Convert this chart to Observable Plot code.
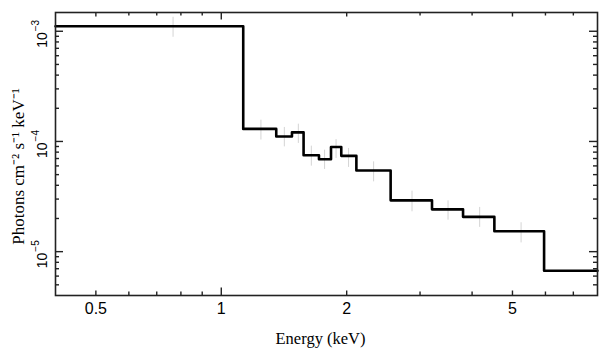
<!DOCTYPE html>
<html><head><meta charset="utf-8">
<script src="https://cdn.jsdelivr.net/npm/d3@7"></script>
<script src="https://cdn.jsdelivr.net/npm/@observablehq/plot@0.6"></script>
<style>body{margin:0;background:#fff}</style>
</head><body><div id="chart"></div>
<script>
// Step (binned) spectrum: bin edges in keV and flux in each bin
const binEdges = [0.4, 1.129, 1.355, 1.478, 1.576, 1.716, 1.834, 1.941, 2.110, 2.550, 3.205, 3.805, 4.524, 5.955, 8.0];
const fluxValues = [1.11e-3, 1.30e-4, 1.11e-4, 1.21e-4, 7.5e-5, 6.9e-5, 8.9e-5, 7.4e-5, 5.45e-5, 2.92e-5, 2.42e-5, 2.07e-5, 1.53e-5, 6.7e-6];
// Error bars (faint grey)
const errEnergy = [0.766, 1.245, 1.417, 1.531, 1.645, 1.770, 1.886, 2.021, 2.321, 2.870, 3.502, 4.171, 5.244];
const errLow  = [8.82e-4, 1.03e-4, 8.93e-5, 9.6e-5, 5.97e-5, 5.57e-5, 7.01e-5, 5.81e-5, 4.30e-5, 2.30e-5, 1.93e-5, 1.66e-5, 1.20e-5];
const errHigh = [1.34e-3, 1.56e-4, 1.34e-4, 1.435e-4, 9.07e-5, 8.34e-5, 1.04e-4, 8.64e-5, 6.53e-5, 3.54e-5, 2.89e-5, 2.52e-5, 1.83e-5];
// Ticks
const xLabelTicks = [0.5, 1, 2, 5];
const xMajorTicks = [1];
const xMidTicks = [0.5, 2, 5];
const xMinorTicks = [0.6, 0.7, 0.8, 0.9, 3, 4, 6, 7];
const yMajorTicks = [1e-3, 1e-4, 1e-5];
const yTickExponents = ["−3", "−4", "−5"];
const yMinorTicks = [5e-6, 6e-6, 7e-6, 8e-6, 9e-6, 2e-5, 3e-5, 4e-5, 5e-5, 6e-5, 7e-5, 8e-5, 9e-5, 2e-4, 3e-4, 4e-4, 5e-4, 6e-4, 7e-4, 8e-4, 9e-4];

const W = 609, H = 357, mL = 55, mR = 12, mT = 12, mB = 62;
const fw = W - mL - mR, fh = H - mT - mB;

const steps = binEdges.map((e, i) => ({e, f: fluxValues[Math.min(i, fluxValues.length - 1)]}));
const errs = errEnergy.map((e, i) => ({e, lo: errLow[i], hi: errHigh[i]}));
const yLab = yMajorTicks.map((v, i) => ({v, ex: yTickExponents[i]}));

const frameColor = "#222";
const serif = "'Liberation Serif', 'Times New Roman', serif";
function xTicks(data, len) {
  return [
    Plot.tickX(data, {x: d => d, insetTop: fh - len, stroke: frameColor, strokeWidth: 1.4}),
    Plot.tickX(data, {x: d => d, insetBottom: fh - len, stroke: frameColor, strokeWidth: 1.4})
  ];
}
function yTicks(data, len) {
  return [
    Plot.tickY(data, {y: d => d, insetRight: fw - len, stroke: frameColor, strokeWidth: 1.4}),
    Plot.tickY(data, {y: d => d, insetLeft: fw - len, stroke: frameColor, strokeWidth: 1.4})
  ];
}

const chart = Plot.plot({
  width: W, height: H,
  marginLeft: mL, marginRight: mR, marginTop: mT, marginBottom: mB,
  style: {background: "#fff", fontFamily: "'Liberation Sans', Arial, sans-serif"},
  x: {type: "log", domain: [0.4, 8], axis: null},
  y: {type: "log", domain: [4e-6, 1.48e-3], axis: null},
  marks: [
    Plot.ruleX(errs, {x: "e", y1: "lo", y2: "hi", stroke: "#d4d4d4", strokeWidth: 1}),
    Plot.line(steps, {x: "e", y: "f", curve: "step-after", stroke: "#000", strokeWidth: 2.6}),
    ...xTicks(xMajorTicks, 7.5),
    ...xTicks(xMidTicks, 4.5),
    ...xTicks(xMinorTicks, 3.5),
    ...yTicks(yMajorTicks, 8),
    ...yTicks(yMinorTicks, 4),
    Plot.frame({stroke: frameColor, strokeWidth: 1.6}),
    Plot.text(xLabelTicks, {x: d => d, frameAnchor: "bottom", text: d => String(d), lineAnchor: "bottom", dy: 18, fontSize: 16, fill: "#000"}),
    Plot.text(yLab, {y: "v", frameAnchor: "left", text: () => "10", rotate: -90, textAnchor: "end", lineAnchor: "bottom", dx: -9, dy: 1, fontSize: 14, fill: "#000"}),
    Plot.text(yLab, {y: "v", frameAnchor: "left", text: "ex", rotate: -90, textAnchor: "start", lineAnchor: "bottom", dx: -17, dy: 0, fontSize: 10, fill: "#000"}),
    Plot.text(["Energy (keV)"], {frameAnchor: "bottom", text: d => d, textAnchor: "middle", lineAnchor: "bottom", dx: -6, dy: 48, fontSize: 16.5, fontFamily: serif, fill: "#000"}),
    Plot.text(["Photons cm⁻² s⁻¹ keV⁻¹"], {frameAnchor: "left", text: d => d, rotate: -90, textAnchor: "middle", lineAnchor: "bottom", dx: -31.5, dy: 12.5, fontSize: 17, fontFamily: serif, fill: "#000"})
  ]
});
document.getElementById("chart").append(chart);
</script>
</body></html>
